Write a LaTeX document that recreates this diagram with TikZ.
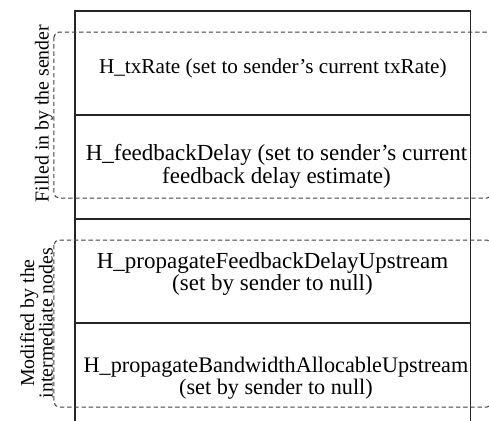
\documentclass[tikz,border=0pt]{standalone}
\usepackage{fontspec}
\setmainfont{Liberation Serif}
\begin{document}
\begin{tikzpicture}[x=0.5pt,y=-0.5pt,
  row/.style={draw=black!85,line width=0.6pt,minimum width=197.85pt,minimum height=52pt,inner sep=0pt,outer sep=0pt},
  field/.style={align=center,inner sep=0pt},
  side/.style={align=center,font=\fontsize{9.9}{9.3}\selectfont,rotate=90,inner sep=0pt},
  bracket/.style={draw=black!75,line width=0.5pt,dash pattern=on 2.2pt off 1.4pt,rounded corners=2.5pt}]
\useasboundingbox (0,0) rectangle (489,420);
% rows of the header
\node[row] (r1) at (272.85,63) {};
\node[row] (r2) at (272.85,167) {};
\node[row] (r3) at (272.85,271) {};
\node[row] (r4) at (272.85,375) {};
% field texts
\node[field,font=\fontsize{10.6}{10}\selectfont] (t1) at (272.85,68) {H\_txRate (set to sender's current txRate)};
\node[field,font=\fontsize{11.5}{10}\selectfont] (t2) at (276.5,166.5) {H\_feedbackDelay (set to sender's current\\feedback delay estimate)};
\node[field,font=\fontsize{11.5}{10}\selectfont] (t3) at (272.5,274) {H\_propagateFeedbackDelayUpstream\\(set by sender to null)};
\node[field,font=\fontsize{11.1}{10}\selectfont] (t4) at (276,378) {H\_propagateBandwidthAllocableUpstream\\(set by sender to null)};
% dashed brackets
\draw[bracket] (54,32) rectangle (492,198);
\draw[bracket] (54,240) rectangle (492,407);
% side labels
\node[side] (s1) at (44,113.5) {Filled in by the sender};
\node[side] (s2) at (36.5,323) {Modified by the\\intermediate nodes};
\end{tikzpicture}
\end{document}
